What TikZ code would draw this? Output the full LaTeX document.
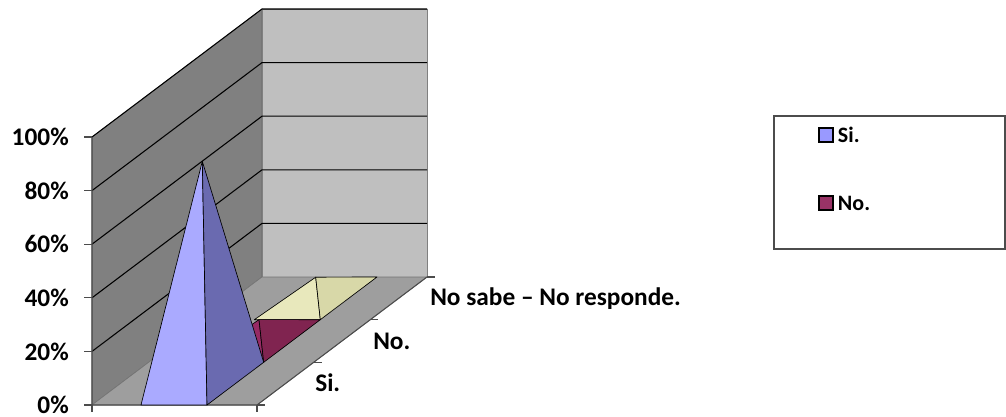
\documentclass[tikz,border=0pt]{standalone}
\usepackage{fontspec}
\setmainfont{Carlito}
\usetikzlibrary{positioning}

\definecolor{siFront}{RGB}{170,170,255}
\definecolor{siSide}{RGB}{106,106,176}
\definecolor{noFront}{RGB}{150,42,100}
\definecolor{noSide}{RGB}{128,36,80}
\definecolor{nsFront}{RGB}{232,232,188}
\definecolor{nsSide}{RGB}{216,216,168}
\definecolor{siLegend}{RGB}{153,153,255}
\definecolor{noLegend}{RGB}{153,51,102}

\begin{document}
\begin{tikzpicture}[x=0.75pt, y=-0.75pt,
    % Styles
    wallleft/.style={fill=black!50, draw=black!60, thin},
    wallback/.style={fill=black!25, draw=black!50, thin},
    floorbox/.style={fill=black!38, draw=black!55, thin},
    gridline/.style={draw=black, line width=0.8pt},
    axisline/.style={draw=black!70, line width=0.8pt},
    face/.style={draw=black, line width=0.5pt, line join=round},
    pct/.style={font=\fontsize{19}{22}\selectfont\bfseries, anchor=east, inner sep=0pt},
    cat/.style={font=\fontsize{19}{22}\selectfont\bfseries, anchor=west, inner sep=0pt},
    legtext/.style={font=\fontsize{16.5}{20}\selectfont\bfseries, anchor=west, inner sep=0pt},
    legmark/.style={draw=black, line width=1pt, minimum size=10.5pt, inner sep=0pt},
]

\useasboundingbox (0,0) rectangle (1006,417);

% Box corners
\coordinate (o) at (92,405);
\coordinate (a) at (257,405);
\coordinate (b) at (427,277);
\coordinate (c) at (262,277);
\coordinate (otop) at (92,137);
\coordinate (ctop) at (262,9);
\coordinate (btop) at (427,9);

% Walls and floor
\filldraw[wallleft] (o) -- (otop) -- (ctop) -- (c) -- cycle;
\filldraw[wallback] (c) -- (ctop) -- (btop) -- (b) -- cycle;
\filldraw[floorbox] (o) -- (a) -- (b) -- (c) -- cycle;

% Grid lines
\draw[gridline] (92,351.4) -- (262,223.4) -- (427,223.4);
\draw[gridline] (92,297.8) -- (262,169.8) -- (427,169.8);
\draw[gridline] (92,244.2) -- (262,116.2) -- (427,116.2);
\draw[gridline] (92,190.6) -- (262,62.6) -- (427,62.6);
\draw[gridline] (otop) -- (ctop) -- (btop);

% Axes
\draw[axisline] (otop) -- (o) -- (a) -- (b);
\draw[axisline] (84,405) -- (o) (84,351.4) -- (92,351.4) (84,297.8) -- (92,297.8)
    (84,244.2) -- (92,244.2) (84,190.6) -- (92,190.6) (84,137) -- (otop);
\draw[axisline] (o) -- (92,412) (a) -- (257,412);
\draw[axisline] (a) -- (265,405) (313.7,362.3) -- (321.7,362.3)
    (370.3,319.7) -- (378.3,319.7) (b) -- (435,277);

% Pyramid: No sabe - No responde
\coordinate (ns-fl) at (254.3,319.7);
\coordinate (ns-fr) at (320.3,319.7);
\coordinate (ns-br) at (377,277);
\coordinate (ns-top) at (315.7,277.2);
\filldraw[face, fill=nsFront] (ns-fl) -- (ns-fr) -- (ns-top) -- cycle;
\filldraw[face, fill=nsSide] (ns-fr) -- (ns-br) -- (ns-top) -- cycle;

% Pyramid: No
\coordinate (no-fl) at (197.7,362.3);
\coordinate (no-fr) at (263.7,362.3);
\coordinate (no-br) at (320.3,319.7);
\coordinate (no-top) at (259,319.6);
\filldraw[face, fill=noFront] (no-fl) -- (no-fr) -- (no-top) -- cycle;
\filldraw[face, fill=noSide] (no-fr) -- (no-br) -- (no-top) -- cycle;

% Pyramid: Si
\coordinate (si-fl) at (141,405);
\coordinate (si-fr) at (207,405);
\coordinate (si-br) at (263.7,362.3);
\coordinate (si-top) at (202.3,161.3);
\filldraw[face, fill=siFront] (si-fl) -- (si-fr) -- (si-top) -- cycle;
\filldraw[face, fill=siSide] (si-fr) -- (si-br) -- (si-top) -- cycle;

% Value labels
\node[pct] (p0) at (69,405) {0\%};
\node[pct] (p20) at (69,351.4) {20\%};
\node[pct] (p40) at (69,297.8) {40\%};
\node[pct] (p60) at (69,244.2) {60\%};
\node[pct] (p80) at (69,190.6) {80\%};
\node[pct] (p100) at (69,137) {100\%};

% Category labels
\node[cat] (cat-si) at (315,383) {Si.};
\node[cat] (cat-no) at (373,341) {No.};
\node[cat] (cat-ns) at (430,299) {No sabe -- No responde.};

% Legend
\draw[draw=black!70, line width=0.8pt] (774,116) rectangle (1005,249);
\node[legmark, fill=siLegend] (leg-si) at (826,135) {};
\node[legtext, right=3pt of leg-si] (leg-si-text) {Si.};
\node[legmark, fill=noLegend] (leg-no) at (826,203) {};
\node[legtext, right=3pt of leg-no] (leg-no-text) {No.};

\end{tikzpicture}
\end{document}
